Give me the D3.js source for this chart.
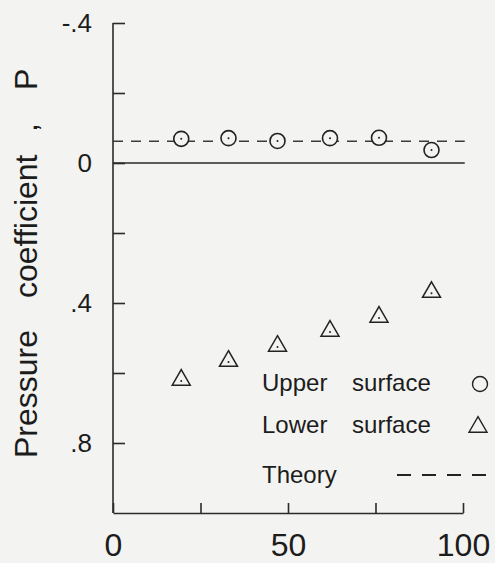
<!DOCTYPE html>
<html>
<head>
<meta charset="utf-8">
<script src="https://cdn.jsdelivr.net/npm/d3@7"></script>
<style>
  body { margin: 0; background: #f3f3f1; }
  svg { display: block; }
  .axis path, .axis line { stroke: #2a2a2a; stroke-width: 1.6; }
  text { fill: #1c1c1c; font-family: 'Liberation Sans', Arial, sans-serif; }
</style>
</head>
<body>
<svg id="chart" width="495" height="563"></svg>
<script>
// station positions along chord (percent)
const stations = [19.5, 33, 47, 62, 76, 91]
// measured pressure coefficients
const upperSurface = [-0.069, -0.071, -0.063, -0.071, -0.072, -0.037]
const lowerSurface = [0.62, 0.566, 0.523, 0.48, 0.44, 0.369]
const theoryValue = [-0.062]
const yTicks = [-0.4, -0.2, 0, 0.2, 0.4, 0.6, 0.8]
const yTickLabels = ['-.4', '', '0', '', '.4', '', '.8']
const xTicks = [0, 25, 50, 75, 100]
const xTickLabels = ['0', '', '50', '', '100']
const legendLabels = ['Upper surface', 'Lower surface', 'Theory']

const svg = d3.select('#chart')

const x = d3.scaleLinear().domain([0, 100]).range([113, 463])
const y = d3.scaleLinear().domain([-0.4, 1.0]).range([23, 513])

// y axis, ticks pointing inward
const yAxis = svg.append('g')
  .attr('class', 'axis')
  .attr('transform', `translate(${x(0)},0)`)
  .call(d3.axisLeft(y)
    .tickValues(yTicks)
    .tickSizeInner(-12)
    .tickSizeOuter(0)
    .tickPadding(21)
    .tickFormat((d, i) => yTickLabels[i]))
yAxis.selectAll('text').style('font-size', '26px').attr('fill', '#1c1c1c')
yAxis.select('.domain').attr('d', `M0,${y(-0.4)}V${y(1.0)}`)

// x axis
const xAxis = svg.append('g')
  .attr('class', 'axis')
  .attr('transform', `translate(0,${y(1.0)})`)
  .call(d3.axisBottom(x)
    .tickValues(xTicks)
    .tickSizeInner(-10)
    .tickSizeOuter(0)
    .tickPadding(20)
    .tickFormat((d, i) => xTickLabels[i]))
xAxis.selectAll('text').style('font-size', '32px').attr('fill', '#1c1c1c')

// zero line
svg.append('line')
  .attr('x1', x(0)).attr('x2', x(100.5))
  .attr('y1', y(0)).attr('y2', y(0))
  .attr('stroke', '#2a2a2a').attr('stroke-width', 1.6)

// theory (dashed)
svg.append('line')
  .attr('x1', x(0)).attr('x2', x(100.5))
  .attr('y1', y(theoryValue[0])).attr('y2', y(theoryValue[0]))
  .attr('stroke', '#3a3a3a').attr('stroke-width', 1.4)
  .attr('stroke-dasharray', '10,8')

// upper surface circles
const up = svg.append('g').selectAll('g')
  .data(stations.map((s, i) => ({ s, v: upperSurface[i] })))
  .join('g')
  .attr('transform', d => `translate(${x(d.s)},${y(d.v)})`)
up.append('circle').attr('r', 7.5)
  .attr('fill', '#f3f3f1').attr('stroke', '#222').attr('stroke-width', 1.6)
up.append('circle').attr('r', 1).attr('fill', '#222')

// lower surface triangles
const tri = d3.symbol().type(d3.symbolTriangle).size(140)
const lo = svg.append('g').selectAll('g')
  .data(stations.map((s, i) => ({ s, v: lowerSurface[i] })))
  .join('g')
  .attr('transform', d => `translate(${x(d.s)},${y(d.v)})`)
lo.append('path').attr('d', tri)
  .attr('fill', 'none').attr('stroke', '#222').attr('stroke-width', 1.5)
lo.append('circle').attr('r', 1).attr('cy', 1).attr('fill', '#222')

// legend
const legendY = [391, 433, 483]
svg.append('g').selectAll('text')
  .data(legendLabels)
  .join('text')
  .attr('x', 262)
  .attr('y', (d, i) => legendY[i])
  .style('font-size', '24px')
  .style('word-spacing', '18px')
  .text(d => d)

svg.append('circle')
  .attr('cx', 480).attr('cy', 384).attr('r', 7.5)
  .attr('fill', 'none').attr('stroke', '#222').attr('stroke-width', 1.4)
svg.append('path')
  .attr('transform', 'translate(478,427)')
  .attr('d', tri)
  .attr('fill', 'none').attr('stroke', '#222').attr('stroke-width', 1.4)
svg.append('line')
  .attr('x1', 397).attr('x2', 487)
  .attr('y1', 475).attr('y2', 475)
  .attr('stroke', '#222').attr('stroke-width', 2.2)
  .attr('stroke-dasharray', '14,11')

// y axis title
const title = svg.append('text')
  .attr('transform', 'translate(37,0) rotate(-90)')
  .style('font-size', '32px')
title.append('tspan').attr('x', -458).text('Pressure')
title.append('tspan').attr('x', -298).text('coefficient')
title.append('tspan').attr('x', -132).text(',')
title.append('tspan').attr('x', -90).text('P')
</script>
</body>
</html>
